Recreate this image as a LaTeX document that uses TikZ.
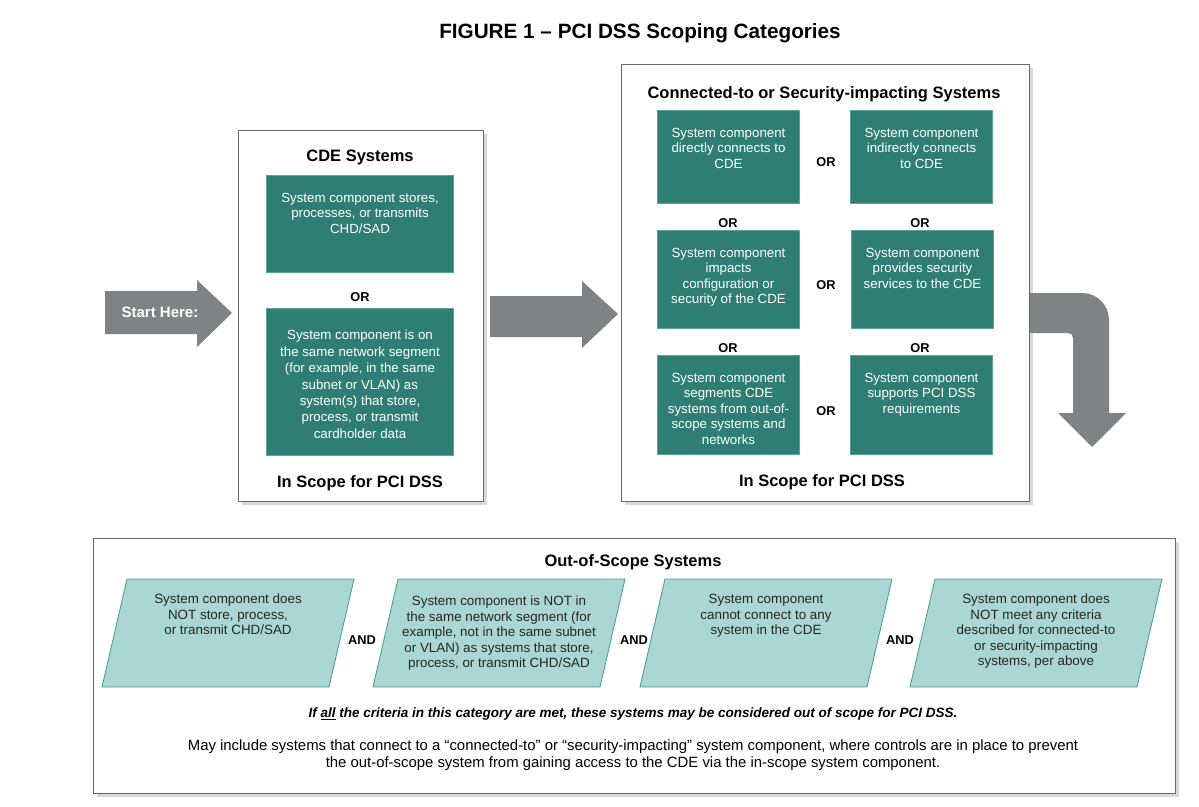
\documentclass[tikz,border=0pt]{standalone}
\usepackage{fontspec}
\setmainfont{Liberation Sans}
\usetikzlibrary{positioning,shadows}

\definecolor{tealdark}{RGB}{47,126,116}
\definecolor{tealedge}{RGB}{90,165,155}
\definecolor{teallight}{RGB}{170,215,211}
\definecolor{tealline}{RGB}{80,160,150}
\definecolor{arrowgray}{RGB}{128,130,133}
\definecolor{framegray}{RGB}{105,105,108}

\tikzset{
  scopebox/.style={draw=framegray, line width=1.3pt, fill=white, anchor=north west,
    drop shadow={shadow xshift=3pt, shadow yshift=-3pt, fill=black!30}},
  comp/.style={draw=tealedge, line width=1pt, fill=tealdark, anchor=north west, inner sep=0pt},
  comptext/.style={text=white, align=center, inner sep=0pt, font=\fontsize{13.3}{15.5}\selectfont},
  oostext/.style={text=black!85, align=center, inner sep=0pt, font=\fontsize{13.4}{15.5}\selectfont},
  orlabel/.style={font=\bfseries\fontsize{12.8}{15}\selectfont},
  heading/.style={font=\bfseries\fontsize{16.5}{19}\selectfont},
}

\begin{document}
\begin{tikzpicture}[x=1pt,y=-1pt]
\useasboundingbox (0,0) rectangle (1199,806);

\node[font=\bfseries\fontsize{20.7}{24}\selectfont] (title) at (640,33) {FIGURE 1 – PCI DSS Scoping Categories};

% start arrow
\fill[arrowgray] (105,291) -- (197,291) -- (197,280) -- (232,313) -- (197,347) -- (197,334) -- (105,334) -- cycle;
\node[text=white, font=\bfseries\fontsize{15}{17}\selectfont] (start) at (160,312) {Start Here:};

% CDE systems
\node[scopebox, minimum width=245pt, minimum height=371pt] (cde) at (238,130) {};
\node[heading] (cdetitle) at (360,157) {CDE Systems};
\node[comp, minimum width=187pt, minimum height=97pt] (cde1) at (266,175) {};
\node[comptext, below=18pt of cde1.north] (cde1txt) {System component stores,\\processes, or transmits\\CHD/SAD};
\node[orlabel] (cdeor) at (360,297) {OR};
\node[comp, minimum width=187pt, minimum height=147pt] (cde2) at (266,308) {};
\node[comptext, font=\fontsize{13.3}{16.4}\selectfont, below=22pt of cde2.north] (cde2txt) {System component is on\\the same network segment\\(for example, in the same\\subnet or VLAN) as\\system(s) that store,\\process, or transmit\\cardholder data};
\node[heading] (cdescope) at (360,483) {In Scope for PCI DSS};

% middle arrow
\fill[arrowgray] (490,296) -- (582,296) -- (582,281) -- (618,314) -- (582,348) -- (582,337) -- (490,337) -- cycle;

% connected-to systems
\node[scopebox, minimum width=408pt, minimum height=437pt] (conn) at (621,64) {};
\node[heading] (conntitle) at (824,94) {Connected-to or Security-impacting Systems};
\node[comp, minimum width=142pt, minimum height=93pt] (c1) at (657,110) {};
\node[comp, minimum width=142pt, minimum height=93pt] (c2) at (850,110) {};
\node[comp, minimum width=142pt, minimum height=98pt] (c3) at (657,230) {};
\node[comp, minimum width=142pt, minimum height=98pt] (c4) at (851,230) {};
\node[comp, minimum width=142pt, minimum height=99pt] (c5) at (657,355) {};
\node[comp, minimum width=142pt, minimum height=99pt] (c6) at (850,355) {};
\node[comptext, below=18pt of c1.north] (c1txt) {System component\\directly connects to\\CDE};
\node[comptext, below=18pt of c2.north] (c2txt) {System component\\indirectly connects\\to CDE};
\node[comptext, below=18pt of c3.north] (c3txt) {System component\\impacts\\configuration or\\security of the CDE};
\node[comptext, below=18pt of c4.north] (c4txt) {System component\\provides security\\services to the CDE};
\node[comptext, below=18pt of c5.north] (c5txt) {System component\\segments CDE\\systems from out-of-\\scope systems and\\networks};
\node[comptext, below=18pt of c6.north] (c6txt) {System component\\supports PCI DSS\\requirements};
\node[orlabel] (or12) at (826,162) {OR};
\node[orlabel] (or34) at (826,285) {OR};
\node[orlabel] (or56) at (826,411) {OR};
\node[orlabel] (or13) at (728,223) {OR};
\node[orlabel] (or24) at (920,223) {OR};
\node[orlabel] (or35) at (728,348) {OR};
\node[orlabel] (or46) at (920,348) {OR};
\node[heading] (connscope) at (822,482) {In Scope for PCI DSS};

% bent arrow down
\fill[arrowgray] (1030,293) -- (1082,293) .. controls (1097,293) and (1109,305) .. (1109,320)
  -- (1109,413) -- (1126,413) -- (1092,447) -- (1058,413) -- (1073,413) -- (1073,338)
  .. controls (1073,335) and (1071,333) .. (1068,333) -- (1030,333) -- cycle;

% out-of-scope systems
\node[scopebox, minimum width=1082pt, minimum height=255pt] (oos) at (93,538) {};
\node[heading] (oostitle) at (633,562) {Out-of-Scope Systems};
\foreach \xl in {127,398,665,935}
  \filldraw[fill=teallight, draw=tealline, line width=0.9pt] (\xl,579) -- ++(227,0) -- ++(-25,108) -- ++(-227,0) -- cycle;
\node[oostext, anchor=north] (p1) at (228,594) {System component does\\NOT store, process,\\or transmit CHD/SAD};
\node[oostext, anchor=north] (p2) at (499,596) {System component is NOT in\\the same network segment (for\\example, not in the same subnet\\or VLAN) as systems that store,\\process, or transmit CHD/SAD};
\node[oostext, anchor=north] (p3) at (766,594) {System component\\cannot connect to any\\system in the CDE};
\node[oostext, anchor=north] (p4) at (1036,594) {System component does\\NOT meet any criteria\\described for connected-to\\or security-impacting\\systems, per above};
\node[orlabel] (and1) at (362,640) {AND};
\node[orlabel] (and2) at (634,640) {AND};
\node[orlabel] (and3) at (900,640) {AND};
\node[font=\bfseries\itshape\fontsize{13.5}{15}\selectfont] (allmet) at (633,714) {If \underline{all} the criteria in this category are met, these systems may be considered out of scope for PCI DSS.};
\node[align=center, font=\fontsize{14.9}{17}\selectfont] (mayinclude) at (633,755) {May include systems that connect to a “connected-to” or “security-impacting” system component, where controls are in place to prevent\\the out-of-scope system from gaining access to the CDE via the in-scope system component.};

\end{tikzpicture}
\end{document}
